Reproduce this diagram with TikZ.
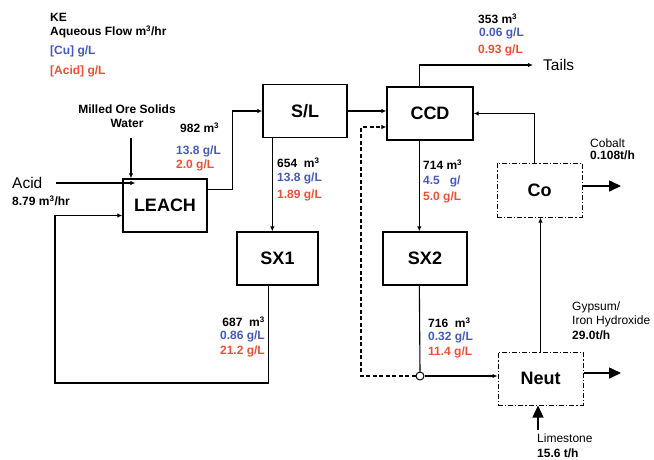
\documentclass[tikz,border=0pt]{standalone}
\usepackage{fontspec}
\setmainfont{Liberation Sans}
\usetikzlibrary{arrows.meta}
\definecolor{cublue}{RGB}{70,90,185}
\definecolor{acidred}{RGB}{235,80,55}

\begin{document}
\begin{tikzpicture}[x=1pt,y=-1pt,
  unit/.style={draw,line width=1.3pt,minimum width=84pt,minimum height=53pt,font=\bfseries\fontsize{18}{20}\selectfont},
  cobox/.style={unit,line width=1pt,dash pattern=on 5pt off 2pt on 1.2pt off 2pt},
  txt/.style={inner sep=0pt,anchor=west,font=\fontsize{12}{14}\selectfont},
  big/.style={txt,font=\fontsize{15.5}{17}\selectfont},
  val/.style={txt,font=\bfseries\fontsize{12}{14}\selectfont},
  flow/.style={line width=1.1pt,-{Latex[length=5pt,width=4.5pt]}},
  bigout/.style={line width=1.6pt,-{Triangle[length=12pt,width=11pt]}},
  bypass/.style={flow,dash pattern=on 4pt off 2.5pt}]
\useasboundingbox (0,0) rectangle (654,459);

% units
\node[unit] (leach) at (165,205.5) {LEACH};
\node[unit] (sl) at (305,111) {S/L};
\node[unit,minimum width=86pt] (ccd) at (430,113.5) {CCD};
\node[unit,minimum width=81pt] (sx1) at (277.5,258.5) {SX1};
\node[unit] (sx2) at (425,258.5) {SX2};
\node[cobox,minimum width=85pt,minimum height=54pt] (co) at (539.5,190) {Co};
\node[cobox,minimum width=85pt] (neut) at (540.5,378.5) {Neut};
\node[circle,draw,fill=white,inner sep=0pt,minimum size=8pt,line width=1pt] (split) at (420,376) {};

% legend
\node[val] (ke) at (50,17) {KE};
\node[val] (aq) at (50,32) {Aqueous Flow m\textsuperscript{3}/hr};
\node[val,text=cublue] (cu) at (50,51) {[Cu] g/L};
\node[val,text=acidred] (ac) at (50,71) {[Acid] g/L};

% feeds
\node[val,anchor=center,align=center] (ore) at (127,116) {Milled Ore Solids\\Water};
\coordinate (feed) at (131,138);
\draw[flow] (feed) -- (feed |- leach.north);
\node[big] (acid) at (12,183) {Acid};
\node[val] (acidrate) at (12,201) {8.79 m\textsuperscript{3}/hr};
\draw[flow] ([xshift=13pt]acid.east) -- ([xshift=13pt]acid.east -| leach.west);

% main line
\draw[flow] ([yshift=16pt]leach.east) -- ++(25,0) |- (sl.west);
\draw[flow] (sl.east) -- (sl.east -| ccd.west);
\draw[flow] ([xshift=10pt]sl.south west) -- ([xshift=10pt]sl.south west |- sx1.north);
\draw[flow] ([xshift=33pt]ccd.south west) -- ([xshift=33pt]ccd.south west |- sx2.north);
\node[big] (tails) at (543,65) {Tails};
\draw[flow] ([xshift=33pt]ccd.north west) |- ([xshift=-10pt]tails.west);

% raffinate return
\coordinate (ret) at (55,383);
\draw[flow] ([xshift=32pt]sx1.south west) |- (ret) |- ([yshift=-10pt]leach.west);

% SX2 raffinate
\draw[line width=1.1pt] ([xshift=37pt]sx2.south west) -- (split.north);
\draw[flow] (split.east) -- (split.east -| neut.west);
\coordinate (byp) at (361,127);
\draw[bypass] (split.west) -| (byp) -- (byp -| ccd.west);
\draw[flow] (neut.north) -- (neut.north |- co.south);
\draw[flow] ([xshift=-5pt]co.north) |- (ccd.east);

% products
\coordinate (cobout) at (621,186);
\draw[bigout] (co.east |- cobout) -- (cobout);
\coordinate (gypout) at (621,373);
\draw[bigout] (neut.east |- gypout) -- (gypout);
\coordinate (lime) at (538,430);
\draw[bigout,line width=1.2pt] (lime) -- (lime |- neut.south);

% stream data
\node[val] (q1) at (180,128) {982 m\textsuperscript{3}};
\node[val,text=cublue] (cu1) at (176,151) {13.8 g/L};
\node[val,text=acidred] (ac1) at (176,165) {2.0 g/L};

\node[val] (q2) at (277,163) {654\ \ m\textsuperscript{3}};
\node[val,text=cublue] (cu2) at (277,178) {13.8 g/L};
\node[val,text=acidred] (ac2) at (277,195) {1.89 g/L};

\node[val] (q3) at (423,165) {714 m\textsuperscript{3}};
\node[val,text=cublue] (cu3) at (423,181) {4.5\ \ \ g/};
\node[val,text=acidred] (ac3) at (423,197) {5.0 g/L};

\node[val] (q4) at (478,19) {353 m\textsuperscript{3}};
\node[val,text=cublue] (cu4) at (479,33) {0.06 g/L};
\node[val,text=acidred] (ac4) at (478,50) {0.93 g/L};

\node[val,anchor=east] (q5) at (265,322) {687\ \ m\textsuperscript{3}};
\node[val,anchor=east,text=cublue] (cu5) at (265,336) {0.86 g/L};
\node[val,anchor=east,text=acidred] (ac5) at (265,351) {21.2 g/L};

\node[val] (q6) at (428,323) {716\ \ m\textsuperscript{3}};
\node[val,text=cublue] (cu6) at (428,337) {0.32 g/L};
\node[val,text=acidred] (ac6) at (428,352) {11.4 g/L};

\node[txt] (cob) at (590,143) {Cobalt};
\node[val] (cobrate) at (590,155) {0.108t/h};
\node[txt] (gyp) at (572,307) {Gypsum/};
\node[txt] (iron) at (572,321) {Iron Hydroxide};
\node[val] (gyprate) at (572,335) {29.0t/h};
\node[txt] (limes) at (537,438) {Limestone};
\node[val] (limerate) at (537,453) {15.6 t/h};
\end{tikzpicture}
\end{document}
